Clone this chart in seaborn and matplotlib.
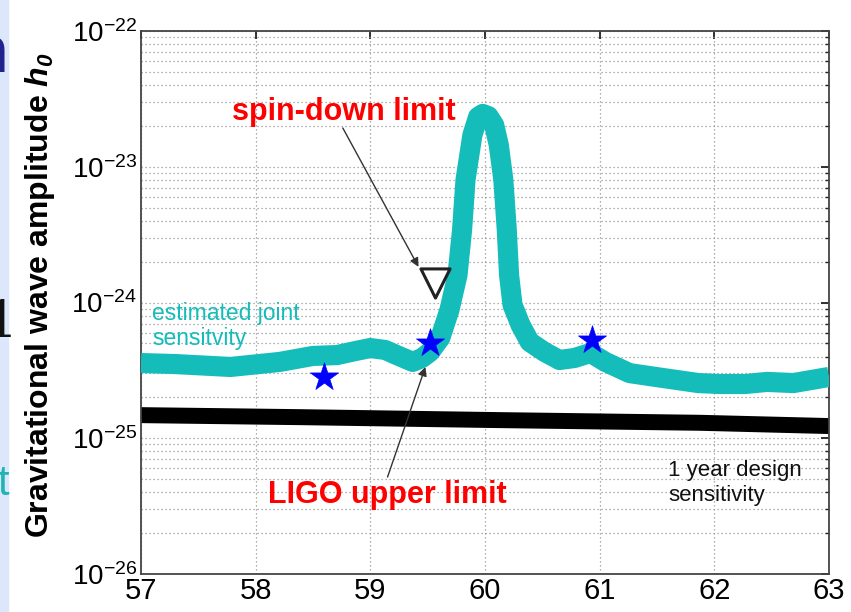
import numpy as np
import matplotlib
matplotlib.use('Agg')
import matplotlib.pyplot as plt
import seaborn as sns
from matplotlib import font_manager as fm
from matplotlib.ticker import NullFormatter, LogLocator
from matplotlib.patches import Rectangle

# ---------------- data ----------------
freq_joint = [57.00, 57.30, 57.78, 58.21, 58.50, 58.71, 58.87, 59.00, 59.13, 59.23,
              59.37, 59.45, 59.52, 59.61, 59.69, 59.76, 59.80, 59.83, 59.89, 59.94,
              59.98, 60.03, 60.08, 60.12, 60.16, 60.19, 60.21, 60.24, 60.31, 60.39,
              60.52, 60.65, 60.78, 60.92, 61.05, 61.26, 61.55, 61.86, 62.04, 62.27,
              62.46, 62.69, 62.85, 63.00]
h_joint = [3.58e-25, 3.52e-25, 3.35e-25, 3.65e-25, 4.04e-25, 4.10e-25, 4.39e-25, 4.62e-25, 4.47e-25, 4.10e-25,
           3.65e-25, 3.90e-25, 4.32e-25, 5.48e-25, 8.81e-25, 1.59e-24, 3.42e-24, 7.99e-24, 1.71e-23, 2.33e-23,
           2.45e-23, 2.36e-23, 2.03e-23, 1.45e-23, 7.99e-24, 3.42e-24, 1.59e-24, 9.59e-25, 6.83e-25, 5.12e-25,
           4.32e-25, 3.77e-25, 3.90e-25, 4.25e-25, 3.65e-25, 3.02e-25, 2.78e-25, 2.55e-25, 2.51e-25, 2.51e-25,
           2.60e-25, 2.55e-25, 2.69e-25, 2.83e-25]

freq_design = [57.00, 58.39, 60.13, 61.87, 63.00]
h_design = [1.48e-25, 1.43e-25, 1.36e-25, 1.30e-25, 1.23e-25]

freq_ligo = [58.60, 59.52, 60.93]
h_ligo = [2.83e-25, 5.03e-25, 5.29e-25]

freq_spindown = [59.56]
h_spindown = [1.39e-24]

x_ticks = [57, 58, 59, 60, 61, 62, 63]
y_ticks = [1e-26, 1e-25, 1e-24, 1e-23, 1e-22]

CYAN = '#14BDBA'

# ---------------- style ----------------
sns.set_theme(style='white')
plt.rcParams['font.family'] = ['Liberation Sans', 'DejaVu Sans']
plt.rcParams['mathtext.fontset'] = 'custom'
plt.rcParams['mathtext.rm'] = 'Liberation Sans:bold:italic'
plt.rcParams['mathtext.it'] = 'Liberation Sans:bold:italic'
plt.rcParams['mathtext.bf'] = 'Liberation Sans:bold'

names = {f.name for f in fm.fontManager.ttflist}
if 'Liberation Sans Narrow' in names:
    TICKFONT, XSIZE, YSIZE = 'Liberation Sans Narrow', 23, 20
else:
    TICKFONT, XSIZE, YSIZE = 'Liberation Sans', 21, 20

fig = plt.figure(figsize=(8.51, 6.12), dpi=100)
fig.patch.set_facecolor('white')
ax = fig.add_axes([141/851, 1 - 574/612, 688/851, 543/612])

# left slide remnants
fig.patches.append(Rectangle((0, 0), 8/851, 1, transform=fig.transFigure,
                             color='#dde7fb', zorder=0))
fig.text(8/851, 1 - 55/612, 'n', color='#23238e', fontsize=48, fontweight='bold',
         ha='right', va='center')
fig.text(2/851, 1 - 323/612, '1', color='#111111', fontsize=36, ha='center',
         va='center', family='DejaVu Serif')
fig.text(9/851, 1 - 484/612, 't', color='#1fb5b5', fontsize=30, ha='right', va='center')

# ---------------- plot ----------------
sns.lineplot(x=freq_design, y=h_design, color='black', linewidth=11.5, ax=ax,
             sort=False, estimator=None, solid_capstyle='butt', zorder=2)
sns.lineplot(x=freq_joint, y=h_joint, color=CYAN, linewidth=14.5, ax=ax,
             sort=False, estimator=None, solid_joinstyle='round', solid_capstyle='butt', zorder=3)
sns.scatterplot(x=freq_ligo, y=h_ligo, marker='*', s=450, color='#0000FF',
                edgecolor='#0000FF', linewidth=0.5, ax=ax, zorder=5)
sns.scatterplot(x=freq_spindown, y=h_spindown, marker='v', s=441, color='white',
                edgecolor='#222222', linewidth=2.2, ax=ax, zorder=5)

ax.set_yscale('log')
ax.set_xlim(57, 63)
ax.set_ylim(1e-26, 1e-22)
ax.set_xticks(x_ticks)
ax.set_xticklabels([str(t) for t in x_ticks])
ax.set_yticks(y_ticks)
ax.yaxis.set_minor_locator(LogLocator(base=10, subs=np.arange(2, 10), numticks=50))
ax.yaxis.set_minor_formatter(NullFormatter())
ax.set_xlabel('')
ax.set_ylabel('')

grid_kw = dict(color='#959595', linewidth=0.9, linestyle=(0, (1, 2.2)))
ax.grid(True, which='major', axis='x', **grid_kw)
ax.grid(True, which='both', axis='y', **grid_kw)
ax.set_axisbelow(True)

ax.tick_params(which='both', direction='in', top=True, right=True,
               color='#222222', labelcolor='black', labelfontfamily=TICKFONT)
ax.tick_params(which='major', length=6, width=1.3)
ax.tick_params(which='minor', length=3, width=1.0)
ax.tick_params(axis='x', which='major', labelsize=XSIZE, pad=2)
ax.tick_params(axis='y', which='major', labelsize=YSIZE, pad=3)
for s in ax.spines.values():
    s.set_visible(True)
    s.set_color('#444444')
    s.set_linewidth(1.3)

# ---------------- annotations ----------------
ax.text(58.77, 2.21e-23, 'spin-down limit', color='#FF0000', fontsize=22,
        fontweight='bold', ha='center', va='baseline', zorder=6)
ax.annotate('', xy=(59.42, 1.83e-24), xytext=(58.76, 1.93e-23),
            arrowprops=dict(arrowstyle='-|>', color='#333333', lw=1.0,
                            mutation_scale=13, shrinkA=0, shrinkB=0), zorder=6)
ax.text(59.15, 3.33e-26, 'LIGO upper limit', color='#FF0000', fontsize=22,
        fontweight='bold', ha='center', va='baseline', zorder=6)
ax.annotate('', xy=(59.48, 3.35e-25), xytext=(59.15, 5.18e-26),
            arrowprops=dict(arrowstyle='-|>', color='#333333', lw=1.0,
                            mutation_scale=13, shrinkA=0, shrinkB=0), zorder=6)
ax.text(57.10, 7.43e-25, 'estimated joint', color=CYAN, fontsize=16.5,
        ha='left', va='baseline', zorder=6)
ax.text(57.10, 4.86e-25, 'sensitvity', color=CYAN, fontsize=16.5,
        ha='left', va='baseline', zorder=6)
ax.text(61.60, 5.27e-26, '1 year design', color='#111111', fontsize=16,
        ha='left', va='baseline', zorder=6)
ax.text(61.60, 3.45e-26, 'sensitivity', color='#111111', fontsize=16,
        ha='left', va='baseline', zorder=6)

fig.text(40/851, 1 - 295/612, 'Gravitational wave amplitude $h_0$', rotation=90,
         fontsize=23, fontweight='bold', ha='center', va='center', color='black')

fig.savefig('out.png', dpi=100)
